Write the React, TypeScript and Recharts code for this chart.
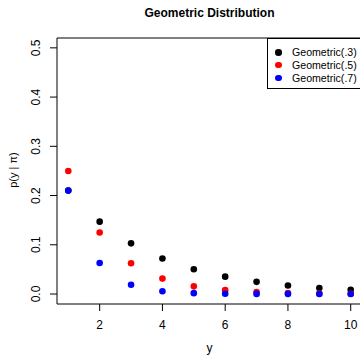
import { ScatterChart, Scatter, XAxis, YAxis, Legend, ReferenceLine } from "recharts"

const yValues = [1, 2, 3, 4, 5, 6, 7, 8, 9, 10]
const geom3 = [0.21, 0.147, 0.1029, 0.072, 0.0504, 0.0353, 0.0247, 0.0173, 0.0121, 0.0085]
const geom5 = [0.25, 0.125, 0.0625, 0.0313, 0.0156, 0.0078, 0.0039, 0.002, 0.001, 0.0005]
const geom7 = [0.21, 0.063, 0.0189, 0.0057, 0.0017, 0.0005, 0.0002, 0.0001, 0.0, 0.0]
const seriesNames = ["Geometric(.3)", "Geometric(.5)", "Geometric(.7)"]
const seriesColors = ["#000000", "#ff0000", "#0000ff"]
const xTicks = [2, 4, 6, 8, 10]
const yTicks = [0, 0.1, 0.2, 0.3, 0.4, 0.5]

const toPoints = (vals: number[]) => yValues.map((y, i) => ({ y, p: vals[i] }))
const allSeries = [geom3, geom5, geom7].map(toPoints)

const font = "Liberation Sans, Arial, sans-serif"

const dot = (color: string) => (props: any) => (
	<circle cx={props.cx} cy={props.cy} r={3.3} fill={color} />
)

const YTick = (props: any) => {
	const { x, y, payload } = props
	return (
		<text x={x - 7.5} y={y} transform={`rotate(-90 ${x - 7.5} ${y})`} textAnchor="middle" fontSize={12} fontFamily={font} fill="#000">
			{payload.value.toFixed(1)}
		</text>
	)
}

const LegendBox = () => (
	<div
		style={{
			position: "absolute",
			left: 267,
			top: 38,
			width: 94,
			height: 51,
			border: "1px solid #000",
			borderRight: "none",
			background: "#fff",
			fontFamily: font,
			fontSize: 10.6,
			boxSizing: "border-box",
		}}
	>
		{seriesNames.map((name, i) => (
			<div key={name} style={{ position: "absolute", left: 0, top: 7 + i * 12.8, height: 12, lineHeight: "12px", whiteSpace: "nowrap" }}>
				<span style={{ position: "absolute", left: 7, top: 3, width: 6.6, height: 6.6, borderRadius: "50%", background: seriesColors[i] }} />
				<span style={{ position: "absolute", left: 24 }}>{name}</span>
			</div>
		))}
	</div>
)

function App() {
	return (
		<div style={{ position: "absolute", left: 0, top: 0, width: 360, height: 355, overflow: "hidden", background: "#fff" }}>
			<ScatterChart width={362} height={355} margin={{ top: 38, right: 0, bottom: 0, left: 0 }}>
				<XAxis
					type="number"
					dataKey="y"
					domain={[0.64, 10.36]}
					ticks={xTicks}
					allowDataOverflow
					height={51}
					tickSize={7}
					tickMargin={9}
					tick={{ fontSize: 12, fontFamily: font, fill: "#000" }}
					axisLine={{ stroke: "#000" }}
					tickLine={{ stroke: "#000" }}
				/>
				<YAxis
					type="number"
					dataKey="p"
					domain={[-0.0203, 0.52]}
					ticks={yTicks}
					allowDataOverflow
					width={57}
					tickSize={7}
					tick={<YTick />}
					axisLine={{ stroke: "#000" }}
					tickLine={{ stroke: "#000" }}
				/>
				<ReferenceLine y={0.52} stroke="#000" ifOverflow="extendDomain" />
				{allSeries.map((pts, i) => (
					<Scatter key={seriesNames[i]} name={seriesNames[i]} data={pts} fill={seriesColors[i]} shape={dot(seriesColors[i])} isAnimationActive={false} />
				))}
				<Legend content={<LegendBox />} wrapperStyle={{ position: "absolute", left: 0, top: 0, width: 0, height: 0 }} />
				<text x={209.5} y={17} textAnchor="middle" fontSize={12} fontWeight="bold" fontFamily={font} fill="#000">
					Geometric Distribution
				</text>
				<text x={209.5} y={351.5} textAnchor="middle" fontSize={12} fontFamily={font} fill="#000">
					y
				</text>
				<text x={17} y={170} transform="rotate(-90 17 170)" textAnchor="middle" fontSize={11} fontFamily={font} fill="#000">
					p(y | π)
				</text>
			</ScatterChart>
		</div>
	)
}

export default App
